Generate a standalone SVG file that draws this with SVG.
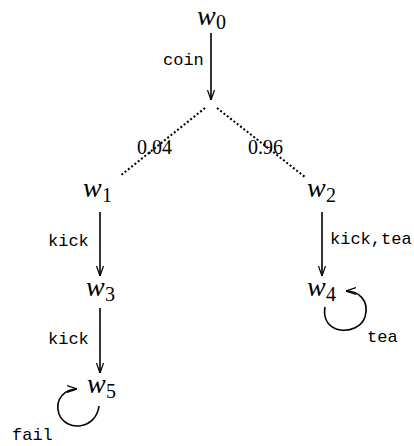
<svg xmlns="http://www.w3.org/2000/svg" width="414" height="446" viewBox="0 0 414 446">
<style>
.w{font-family:"Liberation Serif",serif;font-style:italic;font-size:28px;fill:#000}
.s{font-family:"Liberation Serif",serif;font-size:20px;fill:#000}
.l{font-family:"Liberation Mono",monospace;font-size:17px;fill:#000}
.p{font-family:"Liberation Serif",serif;font-size:20px;fill:#000}
.e{stroke:#000;stroke-width:1.6;fill:none}
.d{stroke:#000;stroke-width:2;fill:none;stroke-dasharray:2 2.2}
</style>
<defs>
<marker id="ah" viewBox="0 0 10 10" refX="10" refY="5" markerWidth="10" markerHeight="10" markerUnits="userSpaceOnUse" orient="auto">
<path d="M0,1.5 L10,5 L0,8.5" fill="none" stroke="#000" stroke-width="1.2"/>
</marker>
</defs>
<g id="connectors">
<line class="e" x1="211" y1="33" x2="211" y2="100" marker-end="url(#ah)"/>
<text class="l" x="163" y="65">coin</text>
<line class="d" x1="205" y1="108" x2="120" y2="176"/>
<line class="d" x1="217" y1="108" x2="305" y2="177"/>
<text class="p" x="137" y="154">0.04</text>
<text class="p" x="248" y="154">0.96</text>
<line class="e" x1="100" y1="212" x2="100" y2="276" marker-end="url(#ah)"/>
<text class="l" x="48" y="246">kick</text>
<line class="e" x1="322" y1="212" x2="322" y2="276" marker-end="url(#ah)"/>
<text class="l" x="330" y="244">kick,tea</text>
<line class="e" x1="100" y1="308" x2="100" y2="373" marker-end="url(#ah)"/>
<text class="l" x="48" y="344">kick</text>
<path class="e" d="M325,307 C320,335 358,337 365,317 C370,300 358,291 346,291" marker-end="url(#ah)"/>
<text class="l" x="367" y="342">tea</text>
<path class="e" d="M99,406 C96,430 66,432 59,414 C54,398 66,389 77,389" marker-end="url(#ah)"/>
<text class="l" x="12" y="440">fail</text>
</g>
<g id="w0"><text class="w" x="197" y="25">w</text><text class="s" x="216" y="29">0</text></g>
<g id="w1"><text class="w" x="83" y="197">w</text><text class="s" x="102" y="202">1</text></g>
<g id="w2"><text class="w" x="307" y="197">w</text><text class="s" x="326" y="202">2</text></g>
<g id="w3"><text class="w" x="86" y="296">w</text><text class="s" x="105" y="301">3</text></g>
<g id="w4"><text class="w" x="307" y="296">w</text><text class="s" x="326" y="301">4</text></g>
<g id="w5"><text class="w" x="87" y="393">w</text><text class="s" x="106" y="398">5</text></g>
</svg>
